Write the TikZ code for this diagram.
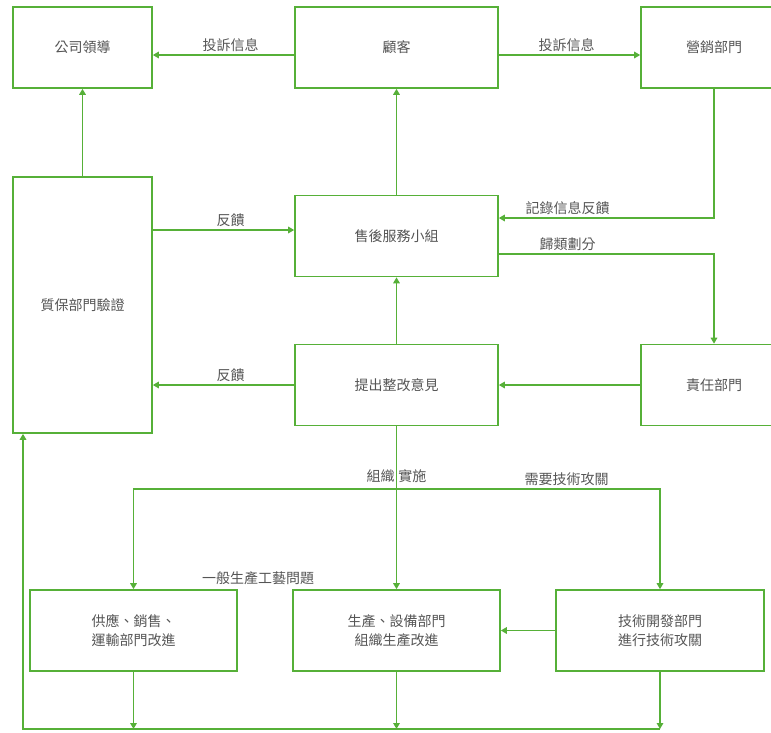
\documentclass[tikz,border=0pt]{standalone}
\usepackage{fontspec}
\setmainfont{Noto Sans CJK TC}
\usetikzlibrary{arrows.meta}

\definecolor{lineGreen}{RGB}{86,176,56}
\definecolor{textGray}{RGB}{85,85,85}

\tikzset{
    box/.style={draw=lineGreen, line width=1.6pt, text=textGray, align=center,
                minimum height=81pt, inner sep=0pt},
    arr/.style={draw=lineGreen, line width=1.6pt, -{Triangle[length=6pt,width=6.5pt]}},
    lbl/.style={text=textGray, inner sep=3pt}
}

\begin{document}
\begin{tikzpicture}[x=1pt, y=-1pt, font=\fontsize{14}{19}\selectfont]
    % Page frame
    \clip (0,0) rectangle (771,732);
    \fill[white] (0,0) rectangle (771,732);

    % Top row
    \node[box, minimum width=139pt] (lead) at (82.5,47.5) {公司領導};
    \node[box, minimum width=203pt] (cust) at (396.5,47.5) {顧客};
    \node[box, minimum width=146pt] (mkt) at (714,47.5) {營銷部門};

    % Middle rows
    \node[box, minimum width=139pt, minimum height=256pt] (qa) at (82.5,305) {質保部門驗證};
    \node[box, minimum width=203pt] (svc) at (396.5,236) {售後服務小組};
    \node[box, minimum width=203pt] (fix) at (396.5,385) {提出整改意見};
    \node[box, minimum width=146pt] (duty) at (714,385) {責任部門};

    % Bottom row
    \node[box, minimum width=207pt] (sup) at (133.5,630.5) {供應、銷售、\\運輸部門改進};
    \node[box, minimum width=207pt] (prod) at (396.5,630.5) {生產、設備部門\\組織生產改進};
    \node[box, minimum width=208pt] (tech) at (660,630.5) {技術開發部門\\進行技術攻關};

    % Helper points
    \coordinate (split) at (396.5,489);
    \coordinate (bl) at (23,729);

    % Complaints
    \draw[arr] ([yshift=-7.5pt]cust.west) -- ([yshift=-7.5pt]lead.east)
        node[lbl, above, pos=0.45] {投訴信息};
    \draw[arr] ([yshift=-7.5pt]cust.east) -- ([yshift=-7.5pt]mkt.west)
        node[lbl, above, pos=0.48] {投訴信息};
    \draw[arr] (qa.north) -- (lead.south);
    \draw[arr] (svc.north) -- (cust.south);

    % Feedback loop
    \draw[arr] ([yshift=6pt]qa.east |- svc.west) -- ([yshift=6pt]svc.west)
        node[lbl, above, pos=0.55] {反饋};
    \draw[arr] (mkt.south) |- ([yshift=18pt]svc.east)
        node[lbl, above, pos=0.84] {記錄信息反饋};
    \draw[arr] ([yshift=-18pt]svc.east) -| (duty.north)
        node[lbl, above, pos=0.16] {歸類劃分};
    \draw[arr] (fix.north) -- (svc.south);
    \draw[arr] (duty.west) -- (fix.east);
    \draw[arr] (fix.west) -- (fix.west -| qa.east)
        node[lbl, above, pos=0.45] {反饋};

    % Improvement
    \draw[arr] (fix.south) -- (prod.north)
        node[lbl, pos=0.305] {組織\hspace{4pt}實施};
    \draw[arr] (split) -| (sup.north);
    \draw[arr] (split) -| (tech.north)
        node[lbl, above, pos=0.323] {需要技術攻關};
    \node[lbl] (gen) at (258,578) {一般生產工藝問題};
    \draw[arr] (tech.west) -- (prod.east);

    % Back to verification
    \foreach \n in {sup,prod,tech} {
        \draw[arr] (\n.south) -- (\n.south |- bl);
    }
    \draw[arr] (tech.south |- bl) -- (bl) -- (qa.south -| bl);
\end{tikzpicture}
\end{document}
